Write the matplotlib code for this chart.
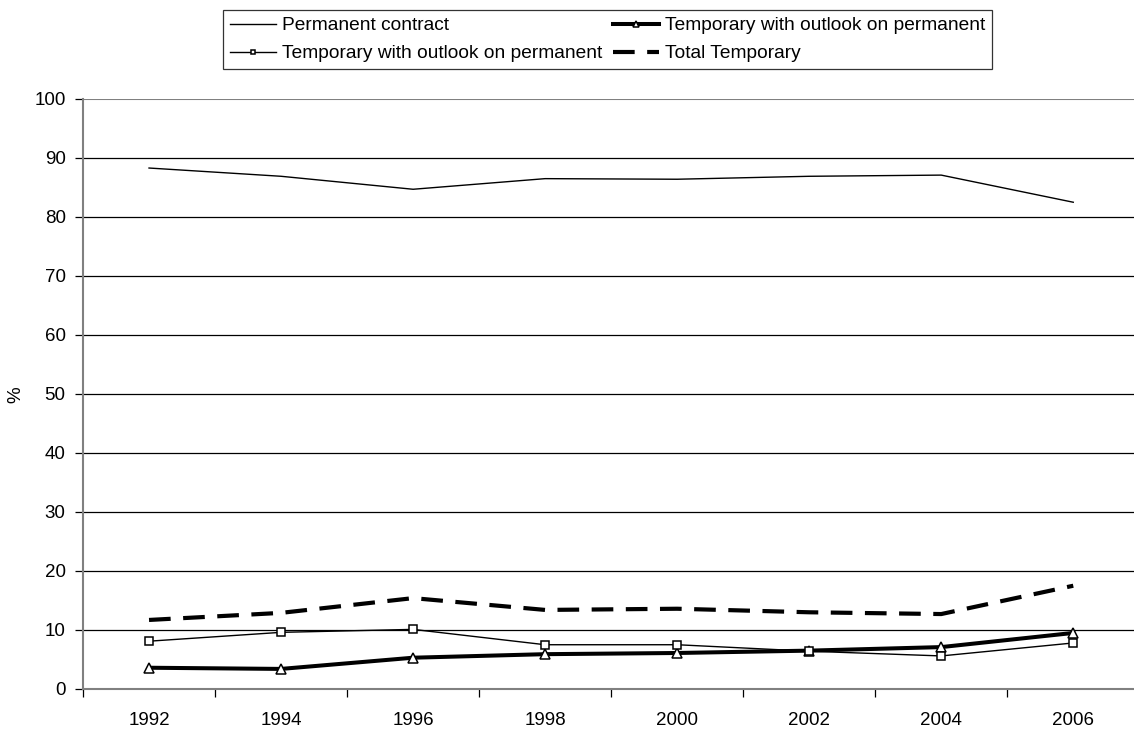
import matplotlib
matplotlib.use("Agg")
import matplotlib.pyplot as plt
import numpy as np

plt.rcParams['font.family'] = ['Liberation Sans', 'DejaVu Sans']

years = ['1992', '1994', '1996', '1998', '2000', '2002', '2004', '2006']
permanent = [88.3, 86.9, 84.7, 86.5, 86.4, 86.9, 87.1, 82.5]
temp_outlook_tri = [3.6, 3.4, 5.3, 5.9, 6.1, 6.5, 7.1, 9.5]
temp_outlook_sq = [8.1, 9.6, 10.1, 7.5, 7.5, 6.4, 5.6, 7.8]
total_temporary = [11.7, 12.9, 15.4, 13.4, 13.6, 13.0, 12.7, 17.5]

fig = plt.figure(figsize=(11.34, 7.29), dpi=100)
ax = fig.add_axes([0.0732, 0.0549, 0.9268, 0.8093])

x = np.arange(len(years))

ax.set_ylim(0, 100)
ax.set_xlim(-0.5, 7.46)
ax.set_yticks(np.arange(0, 101, 10))
for v in range(10, 100, 10):
    ax.axhline(v, color='black', linewidth=0.9, zorder=1)
ax.axhline(100, color='#808080', linewidth=1.5, zorder=1)

l1, = ax.plot(x, permanent, color='black', linewidth=1.0, zorder=3,
              label='Permanent contract')
l3, = ax.plot(x, temp_outlook_tri, color='black', linewidth=2.9, marker='^',
              markersize=7, markerfacecolor='white', markeredgecolor='black',
              markeredgewidth=1.1, zorder=4,
              label='Temporary with outlook on permanent')
l2, = ax.plot(x, temp_outlook_sq, color='black', linewidth=1.0, marker='s',
              markersize=5.5, markerfacecolor='white', markeredgecolor='black',
              markeredgewidth=1.1, zorder=4,
              label='Temporary with outlook on permanent')
l4, = ax.plot(x, total_temporary, color='black', linewidth=3.0, zorder=3,
              dashes=(5.2, 3.0), label='Total Temporary')

for s in ['top', 'right']:
    ax.spines[s].set_visible(False)
for s in ['left', 'bottom']:
    ax.spines[s].set_color('#808080')
    ax.spines[s].set_linewidth(1.5)

ax.set_xticks(x)
ax.set_xticklabels(years)
ax.set_xticks(np.arange(-0.5, 7.5, 1), minor=True)
ax.tick_params(axis='x', which='major', length=0, pad=16.5, labelsize=13.5)
ax.tick_params(axis='x', which='minor', length=6, color='black', width=0.9,
               direction='out')
ax.tick_params(axis='y', length=6, width=0.9, color='black', labelsize=13.5,
               pad=6.5)
fig.text(16 / 1134, 0.458, '%', rotation=90, ha='center', va='center',
         fontsize=13.5)

leg = fig.legend(handles=[l1, l2, l3, l4], ncol=2, loc='upper left',
                 bbox_to_anchor=(223 / 1134, 1 - 10 / 729), frameon=True,
                 fancybox=False, edgecolor='black', fontsize=13.8,
                 borderpad=0.36, labelspacing=0.55, handlelength=2.4,
                 handletextpad=0.31, columnspacing=0.55, borderaxespad=0,
                 markerscale=0.6)
leg.get_frame().set_linewidth(0.9)

fig.savefig('out.png', dpi=100)
